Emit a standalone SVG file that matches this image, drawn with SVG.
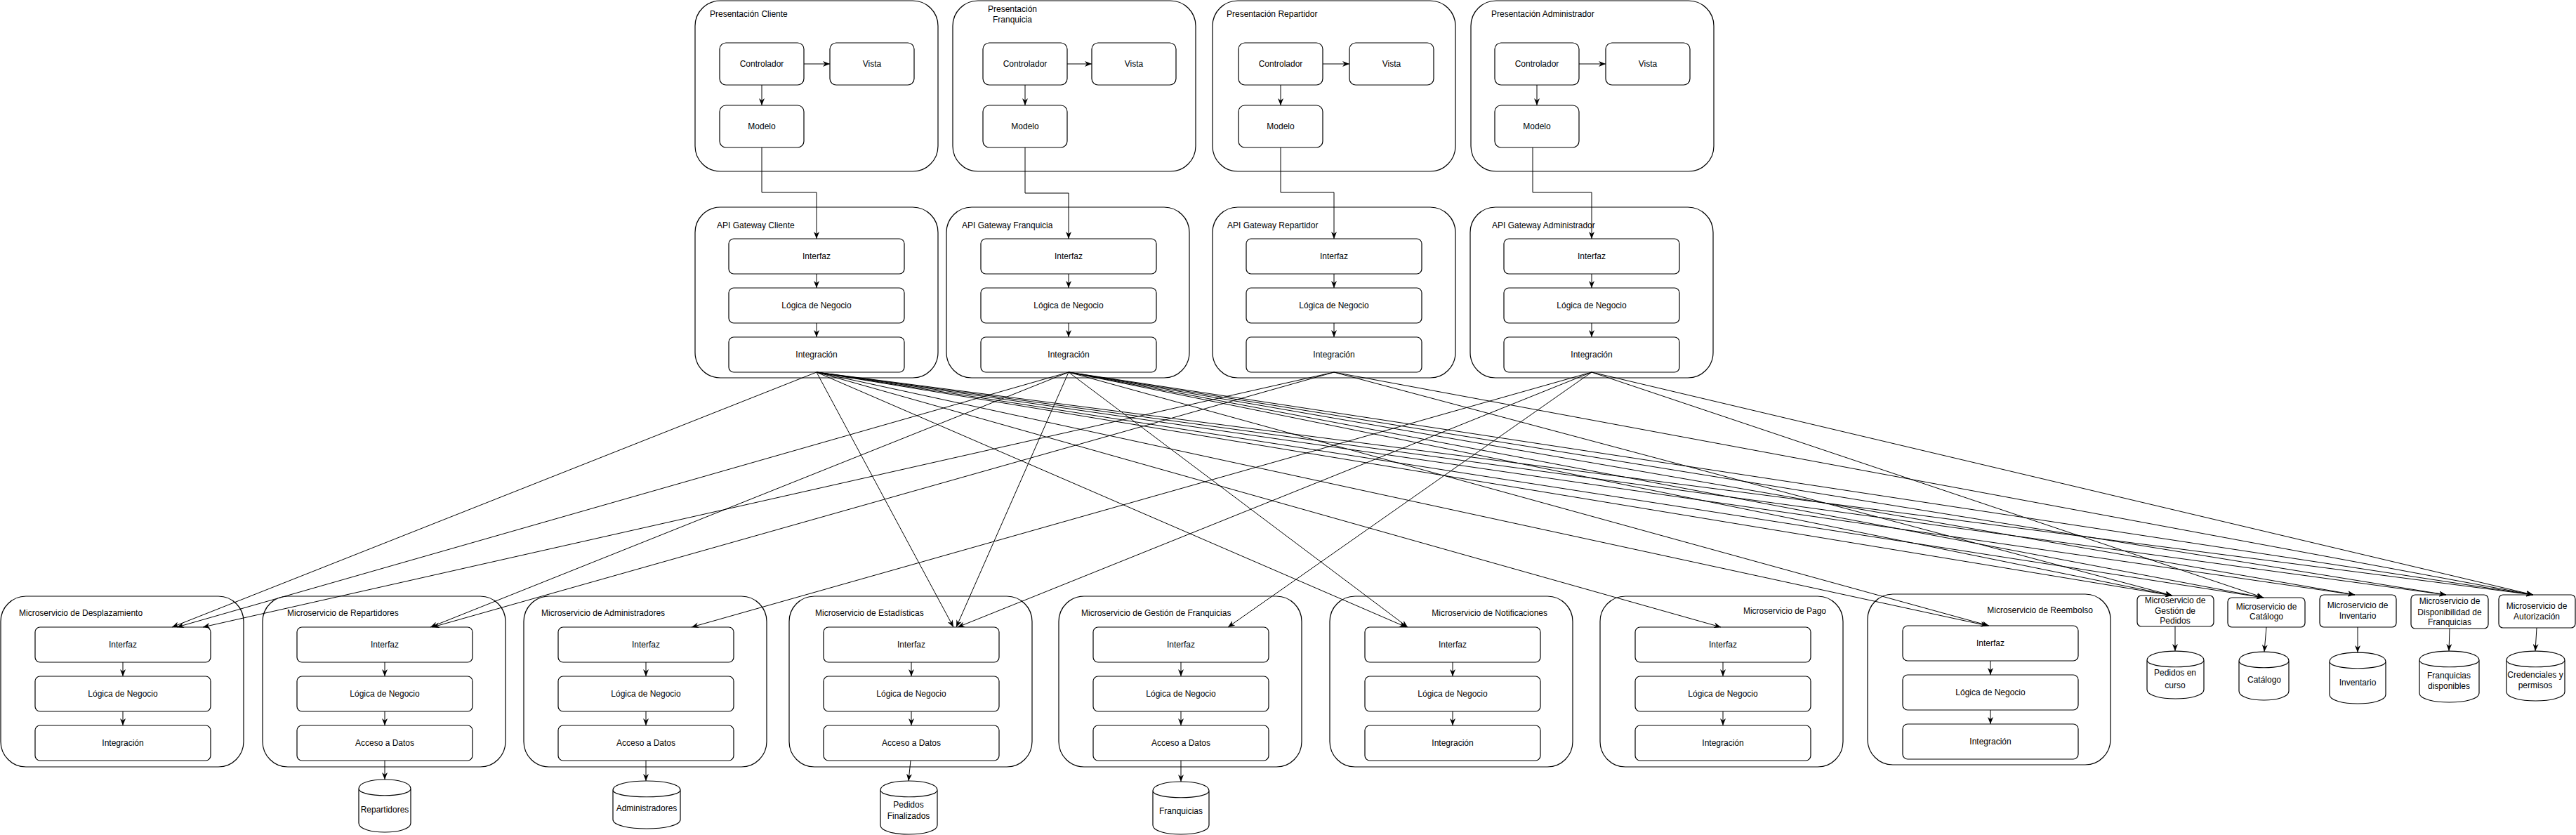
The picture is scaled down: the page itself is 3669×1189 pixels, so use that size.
<svg xmlns="http://www.w3.org/2000/svg" width="3669" height="1189" viewBox="0 0 3669 1189">
<defs>
<style>
.c{fill:#fff;stroke:#000;stroke-width:1.2}
.b{fill:#fff;stroke:#000;stroke-width:1.2}
.t{font-family:"Liberation Sans",Arial,sans-serif;font-size:12px;fill:#000}
.m{text-anchor:middle}
.r{text-anchor:end}
.e{fill:none;stroke:#000;stroke-width:1;marker-end:url(#a)}
.db{fill:#fff;stroke:#000;stroke-width:1.2}
</style>
<marker id="a" viewBox="0 0 10 8" refX="10" refY="4" markerWidth="10" markerHeight="8" markerUnits="userSpaceOnUse" orient="auto">
<path d="M0,0 L10,4 L0,8 L3,4 Z" fill="#000"/>
</marker>
</defs>
<rect width="3669" height="1189" fill="#fff"/>

<!-- Presentation layer -->
<g id="pres-cliente">
<rect class="c" x="990" y="1" width="346" height="243" rx="36"/>
<text class="t" x="1011" y="24">Presentación Cliente</text>
<rect class="b" x="1025" y="61" width="120" height="60" rx="9"/><text class="t m" x="1085" y="95">Controlador</text>
<rect class="b" x="1182" y="61" width="120" height="60" rx="9"/><text class="t m" x="1242" y="95">Vista</text>
<rect class="b" x="1025" y="150" width="120" height="60" rx="9"/><text class="t m" x="1085" y="184">Modelo</text>
</g>
<g id="pres-franquicia">
<rect class="c" x="1357" y="1" width="346" height="243" rx="36"/>
<text class="t m" x="1442" y="17">Presentación</text>
<text class="t m" x="1442" y="32">Franquicia</text>
<rect class="b" x="1400" y="61" width="120" height="60" rx="9"/><text class="t m" x="1460" y="95">Controlador</text>
<rect class="b" x="1555" y="61" width="120" height="60" rx="9"/><text class="t m" x="1615" y="95">Vista</text>
<rect class="b" x="1400" y="150" width="120" height="60" rx="9"/><text class="t m" x="1460" y="184">Modelo</text>
</g>
<g id="pres-repartidor">
<rect class="c" x="1727" y="1" width="346" height="243" rx="36"/>
<text class="t" x="1747" y="24">Presentación Repartidor</text>
<rect class="b" x="1764" y="61" width="120" height="60" rx="9"/><text class="t m" x="1824" y="95">Controlador</text>
<rect class="b" x="1922" y="61" width="120" height="60" rx="9"/><text class="t m" x="1982" y="95">Vista</text>
<rect class="b" x="1764" y="150" width="120" height="60" rx="9"/><text class="t m" x="1824" y="184">Modelo</text>
</g>
<g id="pres-administrador">
<rect class="c" x="2095" y="1" width="346" height="243" rx="36"/>
<text class="t" x="2124" y="24">Presentación Administrador</text>
<rect class="b" x="2129" y="61" width="120" height="60" rx="9"/><text class="t m" x="2189" y="95">Controlador</text>
<rect class="b" x="2287" y="61" width="120" height="60" rx="9"/><text class="t m" x="2347" y="95">Vista</text>
<rect class="b" x="2129" y="150" width="120" height="60" rx="9"/><text class="t m" x="2189" y="184">Modelo</text>
</g>

<!-- API gateways -->
<g id="api-cliente">
<rect class="c" x="990" y="295" width="346" height="243" rx="36"/>
<text class="t" x="1021" y="325">API Gateway Cliente</text>
<rect class="b" x="1038" y="340" width="250" height="50" rx="7"/><text class="t m" x="1163" y="369">Interfaz</text>
<rect class="b" x="1038" y="410" width="250" height="50" rx="7"/><text class="t m" x="1163" y="439">Lógica de Negocio</text>
<rect class="b" x="1038" y="480" width="250" height="50" rx="7"/><text class="t m" x="1163" y="509">Integración</text>
</g>
<g id="api-franquicia">
<rect class="c" x="1348" y="295" width="346" height="243" rx="36"/>
<text class="t" x="1370" y="325">API Gateway Franquicia</text>
<rect class="b" x="1397" y="340" width="250" height="50" rx="7"/><text class="t m" x="1522" y="369">Interfaz</text>
<rect class="b" x="1397" y="410" width="250" height="50" rx="7"/><text class="t m" x="1522" y="439">Lógica de Negocio</text>
<rect class="b" x="1397" y="480" width="250" height="50" rx="7"/><text class="t m" x="1522" y="509">Integración</text>
</g>
<g id="api-repartidor">
<rect class="c" x="1727" y="295" width="346" height="243" rx="36"/>
<text class="t" x="1748" y="325">API Gateway Repartidor</text>
<rect class="b" x="1775" y="340" width="250" height="50" rx="7"/><text class="t m" x="1900" y="369">Interfaz</text>
<rect class="b" x="1775" y="410" width="250" height="50" rx="7"/><text class="t m" x="1900" y="439">Lógica de Negocio</text>
<rect class="b" x="1775" y="480" width="250" height="50" rx="7"/><text class="t m" x="1900" y="509">Integración</text>
</g>
<g id="api-administrador">
<rect class="c" x="2094" y="295" width="346" height="243" rx="36"/>
<text class="t" x="2125" y="325">API Gateway Administrador</text>
<rect class="b" x="2142" y="340" width="250" height="50" rx="7"/><text class="t m" x="2267" y="369">Interfaz</text>
<rect class="b" x="2142" y="410" width="250" height="50" rx="7"/><text class="t m" x="2267" y="439">Lógica de Negocio</text>
<rect class="b" x="2142" y="480" width="250" height="50" rx="7"/><text class="t m" x="2267" y="509">Integración</text>
</g>

<!-- Microservices -->
<g id="ms-desplazamiento">
<rect class="c" x="1" y="849" width="346" height="243" rx="36"/>
<text class="t" x="27" y="877">Microservicio de Desplazamiento</text>
<rect class="b" x="50" y="893" width="250" height="50" rx="7"/><text class="t m" x="175" y="922">Interfaz</text>
<rect class="b" x="50" y="963" width="250" height="50" rx="7"/><text class="t m" x="175" y="992">Lógica de Negocio</text>
<rect class="b" x="50" y="1033" width="250" height="50" rx="7"/><text class="t m" x="175" y="1062">Integración</text>
</g>
<g id="ms-repartidores">
<rect class="c" x="374" y="849" width="346" height="243" rx="36"/>
<text class="t" x="409" y="877">Microservicio de Repartidores</text>
<rect class="b" x="423" y="893" width="250" height="50" rx="7"/><text class="t m" x="548" y="922">Interfaz</text>
<rect class="b" x="423" y="963" width="250" height="50" rx="7"/><text class="t m" x="548" y="992">Lógica de Negocio</text>
<rect class="b" x="423" y="1033" width="250" height="50" rx="7"/><text class="t m" x="548" y="1062">Acceso a Datos</text>
</g>
<g id="db-repartidores">
<path class="db" d="M511,1123 C511,1105.7 585,1105.7 585,1123 L585,1172 C585,1189.3 511,1189.3 511,1172 Z M511,1123 C511,1136 585,1136 585,1123"/>
<text class="t m" x="548" y="1157">Repartidores</text>
</g>
<g id="ms-administradores">
<rect class="c" x="746" y="849" width="346" height="243" rx="36"/>
<text class="t" x="771" y="877">Microservicio de Administradores</text>
<rect class="b" x="795" y="893" width="250" height="50" rx="7"/><text class="t m" x="920" y="922">Interfaz</text>
<rect class="b" x="795" y="963" width="250" height="50" rx="7"/><text class="t m" x="920" y="992">Lógica de Negocio</text>
<rect class="b" x="795" y="1033" width="250" height="50" rx="7"/><text class="t m" x="920" y="1062">Acceso a Datos</text>
</g>
<g id="db-administradores">
<path class="db" d="M873,1125 C873,1107.7 969,1107.7 969,1125 L969,1167 C969,1184.3 873,1184.3 873,1167 Z M873,1125 C873,1138 969,1138 969,1125"/>
<text class="t m" x="921" y="1155">Administradores</text>
</g>
<g id="ms-estadisticas">
<rect class="c" x="1124" y="849" width="346" height="243" rx="36"/>
<text class="t" x="1161" y="877">Microservicio de Estadísticas</text>
<rect class="b" x="1173" y="893" width="250" height="50" rx="7"/><text class="t m" x="1298" y="922">Interfaz</text>
<rect class="b" x="1173" y="963" width="250" height="50" rx="7"/><text class="t m" x="1298" y="992">Lógica de Negocio</text>
<rect class="b" x="1173" y="1033" width="250" height="50" rx="7"/><text class="t m" x="1298" y="1062">Acceso a Datos</text>
</g>
<g id="db-pedidos-finalizados">
<path class="db" d="M1254,1125 C1254,1107.7 1335,1107.7 1335,1125 L1335,1175 C1335,1192.3 1254,1192.3 1254,1175 Z M1254,1125 C1254,1138 1335,1138 1335,1125"/>
<text class="t m" x="1294" y="1150">Pedidos</text>
<text class="t m" x="1294" y="1166">Finalizados</text>
</g>
<g id="ms-gestion-franquicias">
<rect class="c" x="1508" y="849" width="346" height="243" rx="36"/>
<text class="t" x="1540" y="877">Microservicio de Gestión de Franquicias</text>
<rect class="b" x="1557" y="893" width="250" height="50" rx="7"/><text class="t m" x="1682" y="922">Interfaz</text>
<rect class="b" x="1557" y="963" width="250" height="50" rx="7"/><text class="t m" x="1682" y="992">Lógica de Negocio</text>
<rect class="b" x="1557" y="1033" width="250" height="50" rx="7"/><text class="t m" x="1682" y="1062">Acceso a Datos</text>
</g>
<g id="db-franquicias">
<path class="db" d="M1642,1126 C1642,1108.7 1722,1108.7 1722,1126 L1722,1175 C1722,1192.3 1642,1192.3 1642,1175 Z M1642,1126 C1642,1139 1722,1139 1722,1126"/>
<text class="t m" x="1682" y="1159">Franquicias</text>
</g>
<g id="ms-notificaciones">
<rect class="c" x="1894" y="849" width="346" height="243" rx="36"/>
<text class="t r" x="2204" y="877">Microservicio de Notificaciones</text>
<rect class="b" x="1944" y="893" width="250" height="50" rx="7"/><text class="t m" x="2069" y="922">Interfaz</text>
<rect class="b" x="1944" y="963" width="250" height="50" rx="7"/><text class="t m" x="2069" y="992">Lógica de Negocio</text>
<rect class="b" x="1944" y="1033" width="250" height="50" rx="7"/><text class="t m" x="2069" y="1062">Integración</text>
</g>
<g id="ms-pago">
<rect class="c" x="2279" y="849" width="346" height="243" rx="36"/>
<text class="t r" x="2601" y="874">Microservicio de Pago</text>
<rect class="b" x="2329" y="893" width="250" height="50" rx="7"/><text class="t m" x="2454" y="922">Interfaz</text>
<rect class="b" x="2329" y="963" width="250" height="50" rx="7"/><text class="t m" x="2454" y="992">Lógica de Negocio</text>
<rect class="b" x="2329" y="1033" width="250" height="50" rx="7"/><text class="t m" x="2454" y="1062">Integración</text>
</g>
<g id="ms-reembolso">
<rect class="c" x="2660" y="846" width="346" height="243" rx="36"/>
<text class="t r" x="2981" y="873">Microservicio de Reembolso</text>
<rect class="b" x="2710" y="891" width="250" height="50" rx="7"/><text class="t m" x="2835" y="920">Interfaz</text>
<rect class="b" x="2710" y="961" width="250" height="50" rx="7"/><text class="t m" x="2835" y="990">Lógica de Negocio</text>
<rect class="b" x="2710" y="1031" width="250" height="50" rx="7"/><text class="t m" x="2835" y="1060">Integración</text>
</g>

<!-- Small microservices -->
<g id="ms-gestion-pedidos">
<rect class="b" x="3044" y="848" width="109" height="44" rx="6"/>
<text class="t m" x="3098" y="859">Microservicio de</text>
<text class="t m" x="3098" y="874">Gestión de</text>
<text class="t m" x="3098" y="888">Pedidos</text>
</g>
<g id="db-pedidos-curso">
<path class="db" d="M3058,940 C3058,922.7 3139,922.7 3139,940 L3139,982 C3139,999.3 3058,999.3 3058,982 Z M3058,940 C3058,953 3139,953 3139,940"/>
<text class="t m" x="3098" y="962">Pedidos en</text>
<text class="t m" x="3098" y="980">curso</text>
</g>
<g id="ms-catalogo">
<rect class="b" x="3173" y="851" width="110" height="42" rx="6"/>
<text class="t m" x="3228" y="868">Microservicio de</text>
<text class="t m" x="3228" y="882">Catálogo</text>
</g>
<g id="db-catalogo">
<path class="db" d="M3189,941 C3189,923.7 3260,923.7 3260,941 L3260,984 C3260,1001.3 3189,1001.3 3189,984 Z M3189,941 C3189,954 3260,954 3260,941"/>
<text class="t m" x="3225" y="972">Catálogo</text>
</g>
<g id="ms-inventario">
<rect class="b" x="3304" y="847" width="109" height="46" rx="6"/>
<text class="t m" x="3358" y="866">Microservicio de</text>
<text class="t m" x="3358" y="881">Inventario</text>
</g>
<g id="db-inventario">
<path class="db" d="M3318,942 C3318,924.7 3398,924.7 3398,942 L3398,989 C3398,1006.3 3318,1006.3 3318,989 Z M3318,942 C3318,955 3398,955 3398,942"/>
<text class="t m" x="3358" y="976">Inventario</text>
</g>
<g id="ms-disponibilidad">
<rect class="b" x="3434" y="847" width="110" height="48" rx="6"/>
<text class="t m" x="3489" y="860">Microservicio de</text>
<text class="t m" x="3489" y="876">Disponibilidad de</text>
<text class="t m" x="3489" y="890">Franquicias</text>
</g>
<g id="db-franquicias-disponibles">
<path class="db" d="M3446,940 C3446,922.7 3531,922.7 3531,940 L3531,987 C3531,1004.3 3446,1004.3 3446,987 Z M3446,940 C3446,953 3531,953 3531,940"/>
<text class="t m" x="3488" y="966">Franquicias</text>
<text class="t m" x="3488" y="981">disponibles</text>
</g>
<g id="ms-autorizacion">
<rect class="b" x="3559" y="847" width="109" height="47" rx="6"/>
<text class="t m" x="3613" y="867">Microservicio de</text>
<text class="t m" x="3613" y="882">Autorización</text>
</g>
<g id="db-credenciales">
<path class="db" d="M3570,940 C3570,922.7 3653,922.7 3653,940 L3653,985 C3653,1002.3 3570,1002.3 3570,985 Z M3570,940 C3570,953 3653,953 3653,940"/>
<text class="t m" x="3611" y="965">Credenciales y</text>
<text class="t m" x="3611" y="980">permisos</text>
</g>

<!-- Connectors -->
<g id="connectors">
<path class="e" d="M1145,91 H1182"/><path class="e" d="M1085,121 V150"/>
<path class="e" d="M1520,91 H1555"/><path class="e" d="M1460,121 V150"/>
<path class="e" d="M1884,91 H1922"/><path class="e" d="M1824,121 V150"/>
<path class="e" d="M2249,91 H2287"/><path class="e" d="M2189,121 V150"/>
<path class="e" d="M1085,210 V274 H1163 V340"/>
<path class="e" d="M1460,210 V275 H1522 V340"/>
<path class="e" d="M1824,210 V274 H1900 V340"/>
<path class="e" d="M2183,210 V274 H2267 V340"/>
<path class="e" d="M1163,390 V410"/><path class="e" d="M1163,460 V480"/>
<path class="e" d="M1522,390 V410"/><path class="e" d="M1522,460 V480"/>
<path class="e" d="M1900,390 V410"/><path class="e" d="M1900,460 V480"/>
<path class="e" d="M2267,390 V410"/><path class="e" d="M2267,460 V480"/>
<path class="e" d="M175,943 V963"/><path class="e" d="M175,1013 V1033"/>
<path class="e" d="M548,943 V963"/><path class="e" d="M548,1013 V1033"/><path class="e" d="M548,1083 V1110"/>
<path class="e" d="M920,943 V963"/><path class="e" d="M920,1013 V1033"/><path class="e" d="M920,1083 V1112"/>
<path class="e" d="M1298,943 V963"/><path class="e" d="M1298,1013 V1033"/><path class="e" d="M1297,1083 L1294,1112"/>
<path class="e" d="M1682,943 V963"/><path class="e" d="M1682,1013 V1033"/><path class="e" d="M1682,1083 V1113"/>
<path class="e" d="M2069,943 V963"/><path class="e" d="M2069,1013 V1033"/>
<path class="e" d="M2454,943 V963"/><path class="e" d="M2454,1013 V1033"/>
<path class="e" d="M2835,941 V961"/><path class="e" d="M2835,1011 V1031"/>
<path class="e" d="M3098,892 V927"/>
<path class="e" d="M3228,893 L3225,928"/>
<path class="e" d="M3358,893 V929"/>
<path class="e" d="M3489,895 L3488,927"/>
<path class="e" d="M3613,894 L3611,927"/>
<!-- gateway to microservices -->
<path class="e" d="M1163,530 L245,893"/>
<path class="e" d="M1522,530 L252,893"/>
<path class="e" d="M1900,530 L289,893"/>
<path class="e" d="M1522,530 L613,893"/>
<path class="e" d="M1900,530 L616,893"/>
<path class="e" d="M2267,530 L985,893"/>
<path class="e" d="M1163,530 L1358,893"/>
<path class="e" d="M1522,530 L1362,893"/>
<path class="e" d="M2267,530 L1364,893"/>
<path class="e" d="M2267,530 L1749,893"/>
<path class="e" d="M1163,530 L2003,893"/>
<path class="e" d="M1522,530 L2005,893"/>
<path class="e" d="M1163,530 L2451,893"/>
<path class="e" d="M1163,530 L2831,891"/>
<path class="e" d="M1522,530 L2833,891"/>
<path class="e" d="M1163,530 L3094,848"/>
<path class="e" d="M1163,530 L3224,851"/>
<path class="e" d="M1163,530 L3354,847"/>
<path class="e" d="M1163,530 L3484,847"/>
<path class="e" d="M1163,530 L3608,847"/>
<path class="e" d="M1522,530 L3094,848"/>
<path class="e" d="M1522,530 L3224,851"/>
<path class="e" d="M1522,530 L3354,847"/>
<path class="e" d="M1522,530 L3484,847"/>
<path class="e" d="M1522,530 L3608,847"/>
<path class="e" d="M1900,530 L3094,848"/>
<path class="e" d="M1900,530 L3608,847"/>
<path class="e" d="M2267,530 L3224,851"/>
<path class="e" d="M2267,530 L3608,847"/>
</g>
</svg>
